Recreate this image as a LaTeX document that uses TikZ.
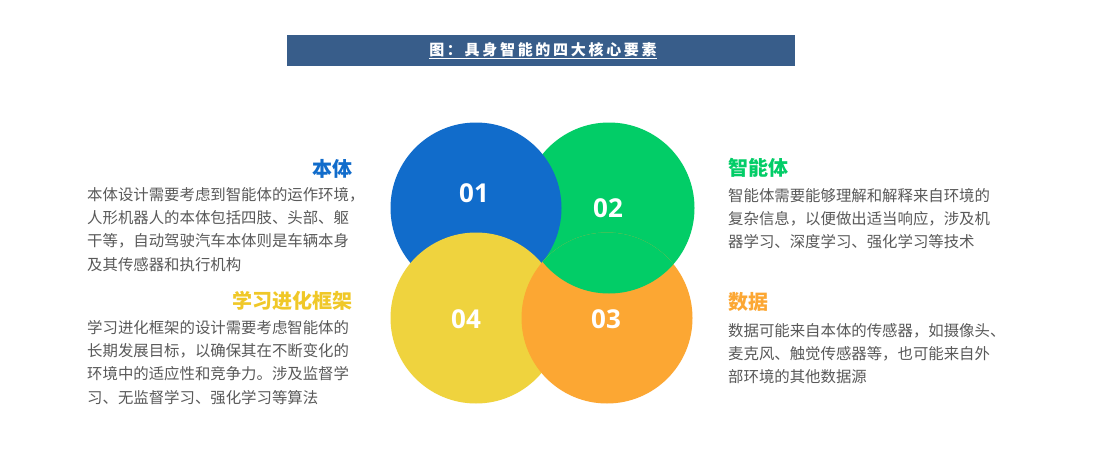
\documentclass[tikz,border=0pt]{standalone}
\usepackage{fontspec}
\setmainfont{Noto Sans CJK SC}
\newfontfamily\numfont{Open Sans}
\newfontfamily\titlefont[LetterSpace=18]{Noto Sans CJK SC}
\definecolor{barblue}{RGB}{56,93,138}
\definecolor{cblue}{RGB}{17,108,203}
\definecolor{cgreen}{RGB}{2,205,103}
\definecolor{cyellow}{RGB}{239,211,62}
\definecolor{corange}{RGB}{252,167,51}
\definecolor{hyellow}{RGB}{240,200,40}
\definecolor{textgray}{RGB}{89,89,89}

\begin{document}
\begin{tikzpicture}[
    x=1pt, y=-1pt,
    num/.style={font=\numfont\bfseries\fontsize{26}{26}\selectfont, text=white, inner sep=0pt},
    head/.style={font=\bfseries\fontsize{20}{20}\selectfont, inner sep=0pt},
    body/.style={font=\fontsize{15.4}{23.3}\selectfont, text=textgray, align=left, inner sep=0pt},
]

% Canvas
\fill[white] (0,0) rectangle (1113,455);

% Title bar
\node[fill=barblue, minimum width=508pt, minimum height=31pt, inner sep=0pt] (bar) at (541,50.5) {};
\node[font=\titlefont\bfseries\fontsize{15}{15}\selectfont, text=white] (title) at (543,51) {\underline{图：具身智能的四大核心要素}};

% Circles
\coordinate (c1) at (476,208);
\coordinate (c2) at (609,208);
\coordinate (c3) at (607,318);
\coordinate (c4) at (476,318);
\fill[cgreen] (c2) circle[radius=85.5pt];
\fill[cblue] (c1) circle[radius=85.5pt];
\fill[cyellow] (c4) circle[radius=85.5pt];
\fill[corange] (c3) circle[radius=85.5pt];
\begin{scope}
  \clip (c3) circle[radius=85.5pt];
  \fill[cgreen] (c2) circle[radius=85.5pt];
\end{scope}

% Numbers
\node[num] (n1) at (474,193) {01};
\node[num] (n2) at (608,208) {02};
\node[num] (n3) at (606,319) {03};
\node[num] (n4) at (466,319) {04};

% Left texts (base = last line)
\node[head, text=cblue, anchor=base east] (h1) at (353,176) {本体};
\node[body, anchor=base west] (t1) at (87,270) {本体设计需要考虑到智能体的运作环境，\\人形机器人的本体包括四肢、头部、躯\\干等，自动驾驶汽车本体则是车辆本身\\及其传感器和执行机构};
\node[head, text=hyellow, anchor=base east] (h4) at (353,308) {学习进化框架};
\node[body, anchor=base west] (t4) at (87,403) {学习进化框架的设计需要考虑智能体的\\长期发展目标，以确保其在不断变化的\\环境中的适应性和竞争力。涉及监督学\\习、无监督学习、强化学习等算法};

% Right texts
\node[head, text=cgreen, anchor=base west] (h2) at (728,175) {智能体};
\node[body, anchor=base west] (t2) at (728,247.6) {智能体需要能够理解和解释来自环境的\\复杂信息，以便做出适当响应，涉及机\\器学习、深度学习、强化学习等技术};
\node[head, text=corange, anchor=base west] (h3) at (728,309) {数据};
\node[body, anchor=base west] (t3) at (728,382.6) {数据可能来自本体的传感器，如摄像头、\\麦克风、触觉传感器等，也可能来自外\\部环境的其他数据源};

\end{tikzpicture}
\end{document}
